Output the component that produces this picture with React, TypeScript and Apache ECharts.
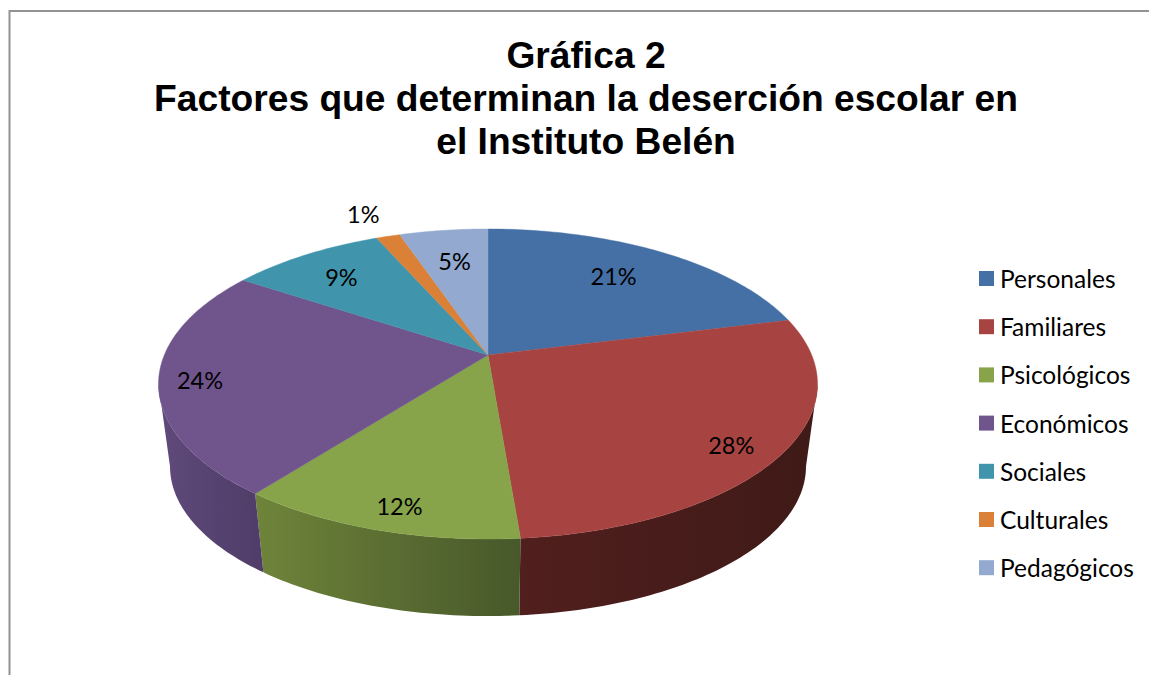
import React, { useEffect, useRef } from "react";
import * as echarts from "echarts";

const titleLines = ["Gráfica 2", "Factores que determinan la deserción escolar en", "el Instituto Belén"];
const categories = ["Personales", "Familiares", "Psicológicos", "Económicos", "Sociales", "Culturales", "Pedagógicos"];
const values = [21.1, 27.6, 11.8, 23.8, 9.1, 1.4, 5.2];

const topColors = ["#4570A6", "#A74442", "#87A44A", "#70558D", "#4095AD", "#DA8137", "#93A9CF"];
const sideStops = [
  ["#2b4568", "#2b4568"],
  ["#501f1e", "#3f1a17"],
  ["#6f843a", "#47582a"],
  ["#5f4a7b", "#4f3c68"],
  ["#2b6070", "#2b6070"],
  ["#8c5222", "#8c5222"],
  ["#5f6e88", "#5f6e88"],
];
// Placement of each percentage label: polar radius in the disc, and angular shift from the slice's middle.
const labelRadius = [0.724, 0.865, 0.88, 0.878, 0.766, 1.236, 0.721];
const labelShift = [-1.5, 3, -1.4, -1.4, -0.8, -1, 0];

// Perspective projection of the pie's disc.
const CX = 488, TOP_Y = 355, BOTTOM_Y = 438.5, A = 323.7, B = 149.6, P = 0.187, BOTTOM_SCALE = 0.965;
const DEG = Math.PI / 180;
const project = (deg: number, r: number, y0: number, s: number): number[] => {
  const u = r * Math.sin(deg * DEG), v = r * Math.cos(deg * DEG), w = 1 + P * v;
  return [CX + (s * A * u) / w, y0 - (s * B * v) / w];
};
const sweep = (from: number, to: number): number[] => {
  const n = Math.max(2, Math.ceil(Math.abs(to - from)));
  return Array.from({ length: n + 1 }, (_, i) => from + ((to - from) * i) / n);
};
const SIDE_FROM = Math.acos(-P) / DEG, SIDE_TO = 360 - SIDE_FROM;
const total = values.reduce((a, b) => a + b, 0);

function renderSlice(idx: number) {
  return (_params: any, api: any) => {
    const value = api.value(0);
    const before = values.slice(0, idx).reduce((a, b) => a + b, 0);
    const start = (before / total) * 360, end = ((before + value) / total) * 360;
    const children: any[] = [];
    const a0 = Math.max(start, SIDE_FROM), a1 = Math.min(end, SIDE_TO);
    if (a1 > a0) {
      const angles = sweep(a0, a1);
      children.push({
        type: "polygon",
        shape: { points: [...angles.map((d) => project(d, 1, TOP_Y, 1)), ...angles.slice().reverse().map((d) => project(d, 1, BOTTOM_Y, BOTTOM_SCALE))] },
        style: {
          fill: {
            type: "linear", x: 0, y: 0, x2: 1, y2: 0,
            colorStops: [{ offset: 0, color: sideStops[idx][0] }, { offset: 1, color: sideStops[idx][1] }],
          },
        },
      });
    }
    children.push({
      type: "polygon",
      shape: { points: [project(0, 0, TOP_Y, 1), ...sweep(start, end).map((d) => project(d, 1, TOP_Y, 1))] },
      style: { fill: topColors[idx], stroke: topColors[idx], lineWidth: 0.4 },
    });
    const [lx, ly] = project((start + end) / 2 + labelShift[idx], labelRadius[idx], TOP_Y, 1);
    children.push({
      type: "text",
      z2: 50,
      style: {
        x: lx, y: ly, text: Math.round((value / total) * 100) + "%",
        textAlign: "center", textVerticalAlign: "middle", fill: "#000",
        font: "23.5px Lato",
      },
    });
    return { type: "group", children };
  };
}

export default function App() {
  const ref = useRef<HTMLDivElement>(null);
  useEffect(() => {
    const chart = echarts.init(ref.current!, undefined, { renderer: "svg" });
    chart.setOption({
      animation: false,
      backgroundColor: "#fff",
      title: {
        text: titleLines.join("\n"),
        left: 581, top: 28, textAlign: "center",
        textStyle: { fontFamily: "Liberation Sans", fontWeight: "bold", fontSize: 37.2, lineHeight: 43, color: "#000" },
      },
      legend: {
        orient: "vertical", left: 979, top: 266, padding: 0,
        icon: "rect", itemWidth: 15, itemHeight: 15, itemGap: 23.2, selectedMode: false,
        data: categories,
        textStyle: { fontFamily: "Lato", fontSize: 24.5, color: "#000", padding: [0, 0, 0, 1] },
      },
      graphic: [{
        type: "polyline",
        shape: { points: [[9.5, 675], [9.5, 11], [1149, 11]] },
        style: { stroke: "#929292", lineWidth: 2, fill: "none" },
      }],
      series: categories.map((name, i) => ({
        type: "custom", name, coordinateSystem: "none", silent: true,
        itemStyle: { color: topColors[i] },
        data: [[values[i]]],
        renderItem: renderSlice(i),
      })),
    });
    return () => chart.dispose();
  }, []);
  return <div ref={ref} style={{ position: "fixed", left: 0, top: 0, width: 1149, height: 675 }} />;
}
